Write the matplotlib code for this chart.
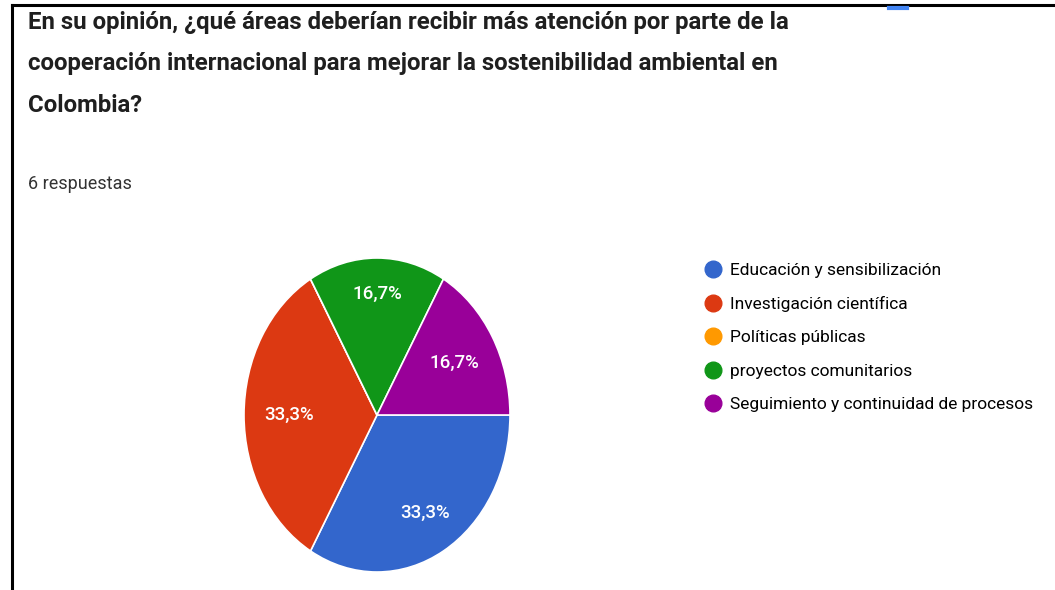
import numpy as np
import matplotlib.pyplot as plt
from matplotlib.lines import Line2D

# Datos de la encuesta
categorias = ['Educación y sensibilización', 'Investigación científica', 'Políticas públicas',
              'proyectos comunitarios', 'Seguimiento y continuidad de procesos']
respuestas = [2, 2, 0, 1, 1]
colores = ['#3366cc', '#dc3912', '#ff9900', '#109618', '#990099']
radio_etiqueta = [0.72, 0.66, 0.0, 0.77, 0.67]

titulo = ['En su opinión, ¿qué áreas deberían recibir más atención por parte de la',
          'cooperación internacional para mejorar la sostenibilidad ambiental en',
          'Colombia?']
subtitulo = '6 respuestas'

plt.rcParams['font.family'] = ['Roboto', 'DejaVu Sans']

W, H = 1055, 590
fig = plt.figure(figsize=(W / 100, H / 100), dpi=100)
fig.patch.set_facecolor('white')

# marco de la captura
fig.add_artist(Line2D([12 / W, 1], [1 - 5 / H, 1 - 5 / H], color='black', lw=2.2))
fig.add_artist(Line2D([12 / W, 12 / W], [0, 1 - 5 / H], color='black', lw=2.2))
fig.add_artist(Line2D([889 / W, 907 / W], [1 - 7.5 / H, 1 - 7.5 / H], color='#4285f4', lw=3))

for i, linea in enumerate(titulo):
    fig.text(28 / W, 1 - (22 + 41.5 * i) / H, linea, fontsize=17.3, fontweight='bold',
             color='#1f1f1f', va='center', ha='left')
fig.text(28 / W, 1 - 184 / H, subtitulo, fontsize=13, color='#333333', va='center', ha='left')

# pastel
cx, cy, rx, ry = 377, 415, 133, 157
ax = fig.add_axes([(cx - rx) / W, (H - cy - ry) / H, 2 * rx / W, 2 * ry / H])
wedges, textos, autotextos = ax.pie(
    respuestas, colors=colores, startangle=0, counterclock=False, radius=1,
    autopct=lambda p: (f'{p:.1f}%'.replace('.', ',') if p > 0 else ''),
    wedgeprops=dict(edgecolor='white', linewidth=1.2),
    textprops=dict(color='white', fontsize=13.5, fontweight='medium'))
ax.set_aspect('auto')
ax.set_xlim(-1, 1)
ax.set_ylim(-1, 1)

for w, t, r in zip(wedges, autotextos, radio_etiqueta):
    ang = np.deg2rad((w.theta1 + w.theta2) / 2)
    t.set_position((r * np.cos(ang), r * np.sin(ang)))

# leyenda
manijas = [Line2D([], [], marker='o', linestyle='', markersize=12, color=c) for c in colores]
fig.legend(manijas, categorias, loc='upper left', bbox_to_anchor=(703 / W, 1 - 263 / H),
           frameon=False, fontsize=12.5, labelspacing=1.04, handletextpad=0.35,
           handlelength=1.2, borderpad=0, borderaxespad=0)

fig.savefig('out.png', dpi=100, facecolor='white')
